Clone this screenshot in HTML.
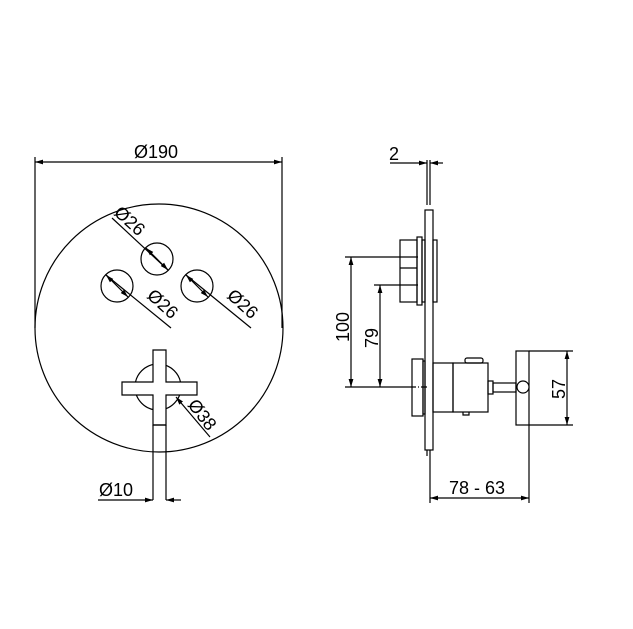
<!DOCTYPE html>
<html><head><meta charset="utf-8"><style>
html,body{margin:0;padding:0;background:#fff;}
svg{display:block}
text{font-family:"Liberation Sans",sans-serif;font-size:18px;fill:#000}
</style></head><body>
<svg width="633" height="629" viewBox="0 0 633 629" xmlns="http://www.w3.org/2000/svg">
<defs>
<marker id="a" viewBox="0 0 10 6" refX="10" refY="3" markerWidth="8" markerHeight="5" orient="auto-start-reverse" markerUnits="userSpaceOnUse"><path d="M0,0L10,3L0,6z" fill="#000"/></marker>
</defs>
<g fill="none" stroke="#000" stroke-width="1.2">
<circle cx="159" cy="328" r="124"/>
<line x1="35" y1="157" x2="35" y2="328"/>
<line x1="282" y1="157" x2="282" y2="328"/>
<line x1="35" y1="162" x2="282" y2="162" marker-start="url(#a)" marker-end="url(#a)"/>
<circle cx="157" cy="259" r="16"/>
<circle cx="117" cy="286" r="16"/>
<circle cx="197" cy="286" r="16"/>
<line x1="112" y1="218" x2="168" y2="270" />
<line x1="146" y1="248" x2="168" y2="270" marker-start="url(#a)" marker-end="url(#a)"/>
<line x1="106" y1="275" x2="171" y2="328"/>
<line x1="106" y1="275" x2="128" y2="297" marker-start="url(#a)" marker-end="url(#a)"/>
<line x1="186" y1="275" x2="251" y2="328"/>
<line x1="186" y1="275" x2="208" y2="297" marker-start="url(#a)" marker-end="url(#a)"/>
<circle cx="158" cy="387" r="23"/>
<path d="M153,350H166V382H197V395H166V425H153V395H122V382H153Z" fill="#fff"/>
<path d="M153,425V500M166,425V500M153,425H166"/>
<line x1="176" y1="397" x2="210" y2="437" marker-start="url(#a)"/>
<line x1="98" y1="500" x2="153" y2="500" marker-end="url(#a)"/>
<line x1="181" y1="500" x2="166" y2="500" marker-end="url(#a)"/>
<line x1="390" y1="163" x2="427" y2="163" marker-end="url(#a)"/>
<line x1="443" y1="163" x2="430" y2="163" marker-end="url(#a)"/>
<path d="M427,160V205M430,160V205"/>
<rect x="425" y="210" width="8" height="240"/>
<path d="M427,450V456M430,450V456"/>
<rect x="400" y="240" width="17" height="62"/>
<line x1="400" y1="268" x2="417" y2="268"/>
<rect x="417" y="237" width="5" height="68"/>
<rect x="422" y="240" width="3" height="62"/>
<rect x="433" y="240" width="4" height="62"/>
<line x1="345" y1="257" x2="418" y2="257"/>
<line x1="374" y1="285" x2="418" y2="285"/>
<line x1="345" y1="387" x2="410" y2="387"/>
<line x1="410" y1="387" x2="428" y2="387" stroke-dasharray="6,2,1,2"/>
<line x1="351" y1="257" x2="351" y2="387" marker-start="url(#a)" marker-end="url(#a)"/>
<line x1="380" y1="285" x2="380" y2="387" marker-start="url(#a)" marker-end="url(#a)"/>
<rect x="412" y="359" width="11" height="57"/>
<rect x="423" y="361" width="2" height="53"/>
<rect x="433" y="363" width="20" height="49"/>
<rect x="453" y="363" width="35" height="49"/>
<rect x="465" y="358" width="18" height="5" rx="2"/>
<path d="M463,412v3h6v-3"/>
<rect x="488" y="381" width="5" height="13"/>
<rect x="493" y="383" width="23" height="9"/>
<rect x="516" y="351" width="13" height="74"/>
<circle cx="523" cy="387" r="6" fill="#fff"/>
<line x1="529" y1="351" x2="573" y2="351"/>
<line x1="529" y1="425" x2="573" y2="425"/>
<line x1="567" y1="351" x2="567" y2="425" marker-start="url(#a)" marker-end="url(#a)"/>
<line x1="430" y1="456" x2="430" y2="503"/>
<line x1="529" y1="425" x2="529" y2="503"/>
<line x1="430" y1="498" x2="529" y2="498" marker-start="url(#a)" marker-end="url(#a)"/>
</g>
<text x="134" y="158">Ø190</text>
<text transform="translate(113,214) rotate(42)">Ø26</text>
<text transform="translate(146,297) rotate(42)">Ø26</text>
<text transform="translate(226,297) rotate(42)">Ø26</text>
<text transform="translate(187,405) rotate(52)">Ø38</text>
<text x="99" y="496">Ø10</text>
<text x="389" y="160">2</text>
<text transform="translate(349,342) rotate(-90)">100</text>
<text transform="translate(378,348) rotate(-90)">79</text>
<text transform="translate(565,399) rotate(-90)">57</text>
<text x="449" y="494">78 - 63</text>
</svg>
</body></html>
